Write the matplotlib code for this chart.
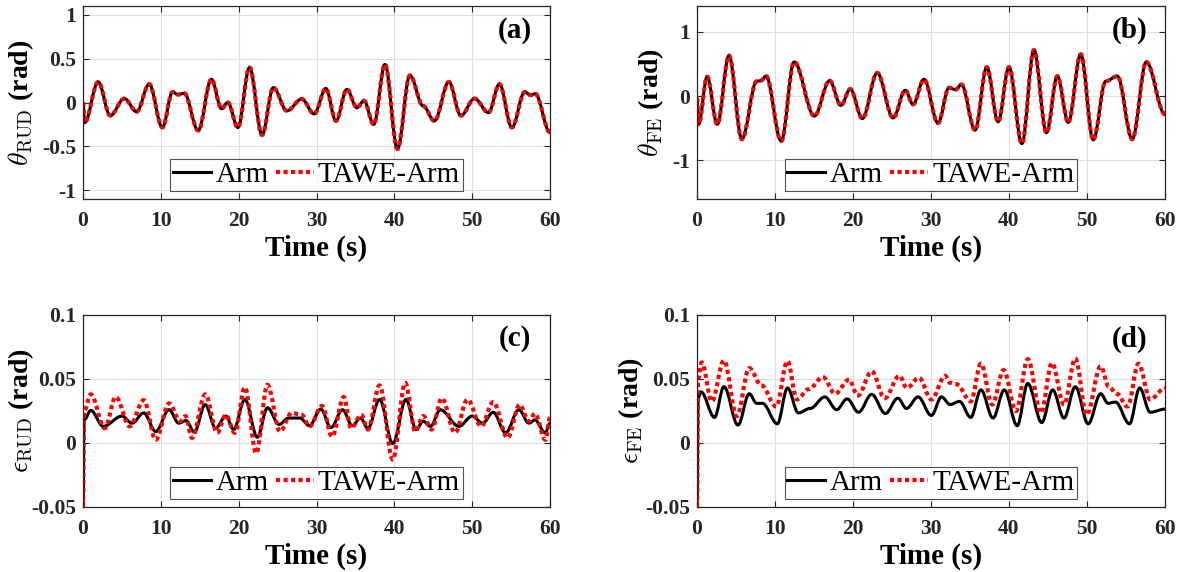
import matplotlib
matplotlib.use("Agg")
import matplotlib.pyplot as plt
from matplotlib.path import Path
from matplotlib.patches import PathPatch
from matplotlib.lines import Line2D

# --- data (time in s, angle / error in rad) ---
# points are the turning points of each trace
# (a) RUD angle; TAWE-Arm lies on top of Arm within the line width
rud_t = [0, 0.2, 1.95, 3.5, 5.3, 6.9, 8.5, 10.2, 11.5, 12.2, 13.0, 14.8, 16.5, 17.8,
         18.6, 19.9, 21.4, 23.0, 24.45, 26.2, 28.1, 29.7, 31.2, 32.5, 33.9, 35.2, 36.1,
         37.35, 38.8, 40.4, 42.0, 43.7, 45.15, 47.0, 48.55, 50.3, 52.1, 53.5, 55.1,
         56.75, 57.5, 58.1, 60]
rud_arm = [0.0, -0.23, 0.235, -0.15, 0.045, -0.105, 0.21, -0.285, 0.12, 0.09, 0.105,
           -0.32, 0.265, -0.07, 0.0, -0.285, 0.40, -0.37, 0.17, -0.095, 0.04, -0.13,
           0.16, -0.21, 0.15, -0.06, 0.02, -0.25, 0.435, -0.53, 0.31, -0.04, -0.21,
           0.235, -0.15, 0.045, -0.115, 0.21, -0.285, 0.12, 0.085, 0.10, -0.34]
rud_tawe = rud_arm

# (b) FE angle
fe_t = [0, 0.2, 1.3, 2.6, 4.1, 5.75, 7.65, 8.2, 8.85, 10.8, 12.45, 15.05, 17.0, 18.45,
        19.65, 21.2, 23.1, 25.15, 26.7, 27.7, 29.1, 30.9, 32.3, 33.15, 33.9, 35.65,
        37.15, 38.6, 40.0, 41.65, 43.2, 44.8, 46.2, 47.6, 49.2, 50.8, 52.4, 53.9, 55.8,
        57.6, 60]
fe_arm = [-0.03, -0.44, 0.30, -0.44, 0.63, -0.67, 0.23, 0.24, 0.31, -0.70, 0.53, -0.31,
          0.24, -0.145, 0.11, -0.35, 0.36, -0.34, 0.09, -0.13, 0.26, -0.42, 0.13, 0.10,
          0.18, -0.53, 0.45, -0.40, 0.45, -0.74, 0.715, -0.57, 0.31, -0.41, 0.65, -0.68,
          0.23, 0.31, -0.67, 0.53, -0.285]
fe_tawe = fe_arm

# (c) RUD tracking error
erud_arm_t = [0, 0.15, 1.0, 2.6, 5.0, 6.3, 7.8, 9.35, 11.05, 12.3, 13.25, 14.3, 15.7,
              17.05, 18.35, 19.35, 20.8, 22.4, 23.7, 25.2, 26.4, 27.85, 29.1, 30.55,
              31.85, 33.35, 34.6, 35.65, 36.6, 38.1, 39.8, 41.5, 42.8, 43.7, 44.65,
              45.9, 48.3, 50.0, 51.35, 52.7, 54.3, 56.0, 57.3, 58.05, 59.4, 60]
erud_arm = [-0.05, 0.018, 0.0255, 0.013, 0.021, 0.0155, 0.0235, 0.009, 0.026, 0.0155,
            0.0175, 0.0085, 0.030, 0.0115, 0.021, 0.0105, 0.034, 0.0045, 0.0275, 0.0145,
            0.0195, 0.0195, 0.0135, 0.0265, 0.012, 0.026, 0.0135, 0.0195, 0.0115, 0.034,
            -0.0005, 0.034, 0.0105, 0.017, 0.013, 0.026, 0.013, 0.021, 0.0155, 0.024,
            0.008, 0.026, 0.0155, 0.018, 0.008, 0.0155]
erud_tawe_t = [0, 0.15, 1.0, 2.8, 4.2, 6.0, 7.8, 9.35, 11.05, 12.5, 13.15, 14.0, 15.7,
               17.25, 18.35, 19.5, 20.8, 22.25, 23.7, 25.3, 26.8, 28.1, 29.1, 30.7, 32.0,
               33.5, 34.45, 35.75, 36.6, 38.1, 39.8, 41.4, 42.7, 43.7, 44.8, 46.1, 47.8,
               49.4, 51.15, 52.7, 54.55, 56.1, 57.3, 58.05, 59.4, 60]
erud_tawe = [-0.05, 0.025, 0.038, 0.0115, 0.036, 0.013, 0.0335, 0.0025, 0.031, 0.017,
             0.021, 0.004, 0.038, 0.008, 0.022, 0.008, 0.0435, -0.008, 0.0455, 0.009,
             0.0235, 0.022, 0.013, 0.029, 0.005, 0.036, 0.0115, 0.022, 0.0105, 0.045,
             -0.013, 0.047, 0.009, 0.021, 0.0105, 0.035, 0.008, 0.034, 0.013, 0.032,
             0.004, 0.030, 0.017, 0.023, 0.0025, 0.0195]

# (d) FE tracking error
efe_arm_t = [0, 0.15, 0.5, 2.25, 3.45, 5.25, 6.7, 7.65, 8.4, 10.3, 11.6, 13.0, 14.5,
             16.4, 17.9, 19.25, 20.7, 22.4, 24.15, 25.75, 26.85, 28.35, 30.05, 31.35,
             32.45, 33.65, 35.1, 36.4, 37.95, 39.4, 41.05, 42.4, 44.2, 45.6, 47.05, 48.5,
             50.15, 51.75, 52.7, 53.65, 55.45, 56.75, 58.1, 60]
efe_arm = [-0.05, 0.035, 0.040, 0.020, 0.044, 0.014, 0.0385, 0.031, 0.031, 0.015, 0.043,
           0.0235, 0.027, 0.036, 0.026, 0.0345, 0.024, 0.038, 0.023, 0.035, 0.027, 0.036,
           0.0215, 0.036, 0.030, 0.0325, 0.020, 0.0415, 0.0195, 0.0415, 0.0135, 0.0465,
           0.016, 0.0415, 0.0195, 0.044, 0.015, 0.0385, 0.031, 0.032, 0.015, 0.043,
           0.024, 0.0265]
efe_tawe_t = [0, 0.15, 0.6, 1.9, 3.45, 5.1, 6.7, 8.25, 10.15, 11.6, 12.8, 14.3, 16.15,
              17.7, 19.5, 20.6, 22.4, 24.05, 25.95, 26.9, 28.45, 30.05, 31.8, 32.45,
              33.25, 35.1, 36.4, 37.85, 39.3, 40.9, 42.4, 44.1, 45.5, 47.05, 48.5, 49.95,
              51.75, 52.8, 53.8, 55.2, 56.6, 58.1, 60]
efe_tawe = [-0.05, 0.05, 0.063, 0.0325, 0.0645, 0.021, 0.0585, 0.045, 0.0285, 0.064,
            0.034, 0.042, 0.0515, 0.0385, 0.0495, 0.037, 0.056, 0.035, 0.0525, 0.043,
            0.051, 0.034, 0.0525, 0.047, 0.046, 0.0325, 0.062, 0.030, 0.057, 0.025,
            0.0655, 0.0235, 0.0625, 0.030, 0.066, 0.022, 0.060, 0.044, 0.0385, 0.0285,
            0.062, 0.034, 0.043]

plt.rcParams["font.family"] = ["Liberation Serif", "DejaVu Serif"]
plt.rcParams["mathtext.fontset"] = "cm"
plt.rcParams["axes.unicode_minus"] = False

W, H = 1191, 572
fig = plt.figure(figsize=(W / 100, H / 100), dpi=100)

ARM = dict(color="black", lw=2.2)
TAWE = dict(color="red", lw=3.0, ls=(0, (1, 0.8)))


def px_axes(left, right, top, bottom):
    return fig.add_axes([left / W, 1 - bottom / H, (right - left) / W, (bottom - top) / H])


def trace(ax, t, y, style, k=0.36):
    # bezier through the turning points, flat tangent at each of them
    verts = [(t[0], y[0])]
    codes = [Path.MOVETO]
    for i in range(1, len(t)):
        dt = t[i] - t[i - 1]
        verts += [(t[i - 1] + k * dt, y[i - 1]), (t[i] - k * dt, y[i]), (t[i], y[i])]
        codes += [Path.CURVE4] * 3
    ax.add_patch(PathPatch(Path(verts, codes), fill=False, edgecolor=style["color"],
                           lw=style["lw"], ls=style.get("ls", "-"), capstyle="butt",
                           joinstyle="round"))


panels = [
    # box (px), series, ylim, yticks, yticklabels, ylabel, label x, tag
    ((83, 550, 6, 199), (rud_t, rud_arm, rud_t, rud_tawe), (-1.1, 1.1),
     [-1, -0.5, 0, 0.5, 1], ["-1", "-0.5", "0", "0.5", "1"],
     r"$\theta_{\mathrm{RUD}}$ (rad)", -0.100, "(a)"),
    ((697, 1165, 6, 199), (fe_t, fe_arm, fe_t, fe_tawe), (-1.6, 1.4),
     [-1, 0, 1], ["-1", "0", "1"], r"$\theta_{\mathrm{FE}}$ (rad)", -0.066, "(b)"),
    ((83, 550, 315, 507), (erud_arm_t, erud_arm, erud_tawe_t, erud_tawe), (-0.05, 0.1),
     [-0.05, 0, 0.05, 0.1], ["-0.05", "0", "0.05", "0.1"],
     r"$\epsilon_{\mathrm{RUD}}$ (rad)", -0.100, "(c)"),
    ((697, 1165, 315, 507), (efe_arm_t, efe_arm, efe_tawe_t, efe_tawe), (-0.05, 0.1),
     [-0.05, 0, 0.05, 0.1], ["-0.05", "0", "0.05", "0.1"],
     r"$\epsilon_{\mathrm{FE}}$ (rad)", -0.108, "(d)"),
]

for box, (ta, ya, tt, yt), ylim, yt_pos, yt_lab, ylab, lab_x, tag in panels:
    ax = px_axes(*box)
    trace(ax, ta, ya, ARM)
    trace(ax, tt, yt, TAWE)
    ax.set_xlim(0, 60)
    ax.set_ylim(*ylim)
    ax.set_xticks(range(0, 61, 10))
    ax.set_xticklabels([str(v) for v in range(0, 61, 10)], fontweight="bold", fontsize=15.5)
    ax.set_yticks(yt_pos)
    ax.set_yticklabels(yt_lab, fontweight="bold", fontsize=15.5)
    ax.tick_params(direction="in", top=True, right=True, length=4, width=0.8,
                   colors="#262626")
    ax.tick_params(axis="x", pad=9)
    ax.tick_params(axis="y", pad=5)
    ax.grid(True, color="#dedede", lw=0.8)
    ax.set_axisbelow(True)
    for s in ax.spines.values():
        s.set_color("#262626")
        s.set_linewidth(0.9)
    ax.set_xlabel("Time (s)", fontsize=21, fontweight="bold", labelpad=2)
    ax.set_ylabel(ylab, fontsize=20, fontweight="bold")
    ax.yaxis.set_label_coords(lab_x, 0.5)
    ax.text(0.925, 0.875, tag, transform=ax.transAxes, ha="center", va="center",
            fontsize=21, fontweight="bold")
    handles = [Line2D([], [], **ARM), Line2D([], [], dash_capstyle="butt", **TAWE)]
    leg = ax.legend(handles, ["Arm", "TAWE-Arm"], loc="lower center",
                    bbox_to_anchor=(0.5, 0.04), ncol=2, fontsize=21, handlelength=1.3,
                    handletextpad=0.15, columnspacing=0.25, borderpad=0.1,
                    borderaxespad=0, frameon=True, fancybox=False)
    leg.get_frame().set_edgecolor("#262626")
    leg.get_frame().set_linewidth(0.8)

fig.savefig("out.png", dpi=100)
